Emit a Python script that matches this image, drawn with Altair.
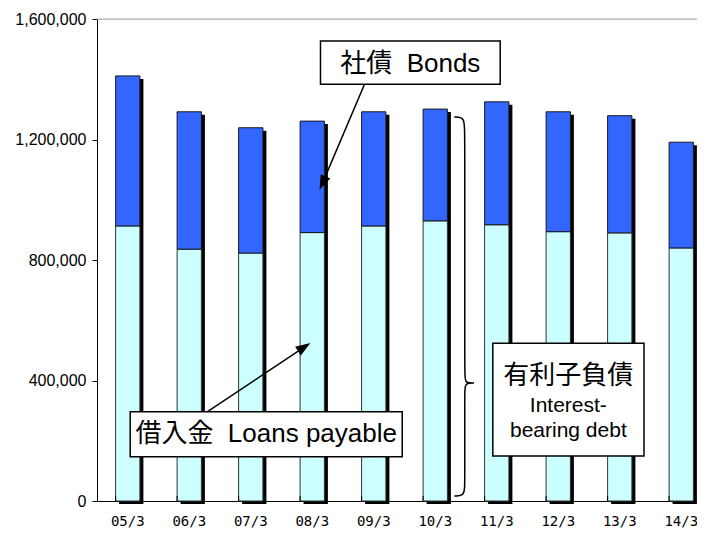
import altair as alt
import pandas as pd

# ---- data ----
periods = ["05/3", "06/3", "07/3", "08/3", "09/3", "10/3", "11/3", "12/3", "13/3", "14/3"]
loans = [913000, 836000, 823000, 891000, 913000, 930000, 917000, 894000, 890000, 840000]
bonds = [498000, 456000, 416000, 370000, 379000, 371000, 408000, 398000, 389000, 351000]
y_ticks = [0, 400000, 800000, 1200000, 1600000]

# annotation boxes (x in category-index units, y in data units)
box_x1 = [3.634, 0.540, 6.436]
box_x2 = [6.556, 4.963, 8.894]
box_y1 = [1527000, 296400, 523500]
box_y2 = [1383200, 147100, 149400]

NB = "\u00a0\u00a0"
label_text = ["社債" + NB + "Bonds", "借入金" + NB + "Loans payable", "有利子負債", "Interest-", "bearing debt"]
label_u = [5.094, 2.751, 7.664, 7.664, 7.664]
label_v = [1452000, 224000, 415600, 316000, 234000]
label_size = [26, 26, 26, 21, 21]

arrow_u1 = [4.350, 1.797]
arrow_v1 = [1383200, 296400]
arrow_u2 = [3.667, 3.369]
arrow_v2 = [1055300, 510900]
arrow_angle = [204, 56.6]

brace_u = [5.81, 5.98, 5.98, 5.98, 5.98, 6.13, 6.13, 6.13, 5.98, 5.98, 5.98, 5.98, 5.81]
brace_v = [1274700, 1274700, 1220000, 420000, 391700, 391700, 391700, 391700, 391700, 360000, 60000, 16600, 16600]

# ---- tables ----
df = pd.DataFrame({"period": periods, "loans": loans, "bonds": bonds})
df["total"] = df["loans"] + df["bonds"]

boxes = pd.DataFrame({"x1": box_x1, "x2": box_x2, "y1": box_y1, "y2": box_y2})
labels = pd.DataFrame({"t": label_text, "u": label_u, "v": label_v, "s": label_size})
arrows = pd.DataFrame({"u1": arrow_u1, "v1": arrow_v1, "u2": arrow_u2, "v2": arrow_v2, "a": arrow_angle})
brace = pd.DataFrame({"u": brace_u, "v": brace_v, "i": list(range(len(brace_u)))})
topline = pd.DataFrame({"u1": [0], "u2": [10], "v": [1600000]})

RANGE = [0, 615]
FONT = "'Liberation Sans', Arial, 'Noto Sans CJK JP'"

y_scale = alt.Scale(domain=[0, 1600000], nice=False, zero=True)
x_scale = alt.Scale(range=RANGE, paddingInner=0.605, paddingOuter=0.3025)
x_axis = alt.Axis(title=None, ticks=False, domain=True, domainColor="black", domainWidth=1,
                  labelFont="DejaVu Sans Mono", labelFontSize=14, labelColor="black",
                  labelPadding=13, labelAngle=0, grid=False)
y_axis = alt.Axis(title=None, values=y_ticks, labelExpr="format(datum.value, ',')", grid=False,
                  tickSize=5, tickColor="black", domainColor="black", labelFont="Liberation Sans",
                  labelFontSize=16, labelColor="black", labelPadding=6)

X = alt.X("period:N", sort=periods, scale=x_scale, axis=x_axis)

shadow = alt.Chart(df).mark_bar(color="black", xOffset=3.5, yOffset=3).encode(
    x=X, y=alt.Y("total:Q", scale=y_scale, axis=y_axis)
)
loan_bar = alt.Chart(df).mark_bar(fill="#CCFFFF", stroke="#333333", strokeWidth=1).encode(
    x=X, y=alt.Y("loans:Q", scale=y_scale, axis=y_axis)
)
bond_bar = alt.Chart(df).mark_bar(fill="#3366FF", stroke="#1a1a1a", strokeWidth=1).encode(
    x=X, y=alt.Y("total:Q", scale=y_scale, axis=y_axis), y2="loans:Q"
)
ticks = alt.Chart(df).mark_rule(color="black", strokeWidth=1).encode(
    x=alt.X("period:N", sort=periods, scale=x_scale, axis=x_axis, bandPosition=0),
    y=alt.value(477), y2=alt.value(482)
)
bars = alt.layer(shadow, loan_bar, bond_bar, ticks)

U = alt.Scale(domain=[0, 10], range=RANGE, nice=False, zero=False)
Yv = lambda f: alt.Y(f, scale=y_scale, axis=y_axis)

top_rule = alt.Chart(topline).mark_rule(color="#a8a8a8", strokeWidth=1).encode(
    x=alt.X("u1:Q", scale=U, axis=None), x2="u2:Q",
    y=Yv("v:Q")
)
arrow_lines = alt.Chart(arrows).mark_rule(color="black", strokeWidth=1.5).encode(
    x=alt.X("u1:Q", scale=U, axis=None), x2="u2:Q",
    y=Yv("v1:Q"), y2="v2:Q"
)
arrow_heads = alt.Chart(arrows).mark_point(
    shape="M0,-1L0.7,1L-0.7,1Z", filled=True, color="black", opacity=1, size=220
).encode(
    x=alt.X("u2:Q", scale=U, axis=None),
    y=Yv("v2:Q"),
    angle=alt.Angle("a:Q", scale=None)
)
box_rects = alt.Chart(boxes).mark_rect(fill="white", stroke="black", strokeWidth=1.5).encode(
    x=alt.X("x1:Q", scale=U, axis=None), x2="x2:Q",
    y=Yv("y1:Q"), y2="y2:Q"
)
texts = alt.Chart(labels).mark_text(font=FONT, color="black", align="center", baseline="middle").encode(
    x=alt.X("u:Q", scale=U, axis=None),
    y=Yv("v:Q"),
    text="t:N",
    size=alt.Size("s:Q", scale=None)
)
brace_line = alt.Chart(brace).mark_line(color="black", strokeWidth=1.5, interpolate="basis").encode(
    x=alt.X("u:Q", scale=U, axis=None),
    y=Yv("v:Q"),
    order="i:Q"
)
annot = alt.layer(top_rule, brace_line, arrow_lines, box_rects, texts, arrow_heads)

chart = alt.layer(bars, annot).resolve_scale(x="independent").properties(
    width=600,
    height=482,
    autosize=alt.AutoSizeParams(type="none"),
    padding={"left": 89, "top": 11, "right": 0, "bottom": 31},
).configure_view(stroke=None).configure(background="white").configure_axisY(
    domainColor="black", tickColor="black", labelColor="black", labelFontSize=16,
    labelFont="Liberation Sans", tickSize=5, labelPadding=6
)

chart.save("out.html", embed_options={"renderer": "svg", "actions": False})
